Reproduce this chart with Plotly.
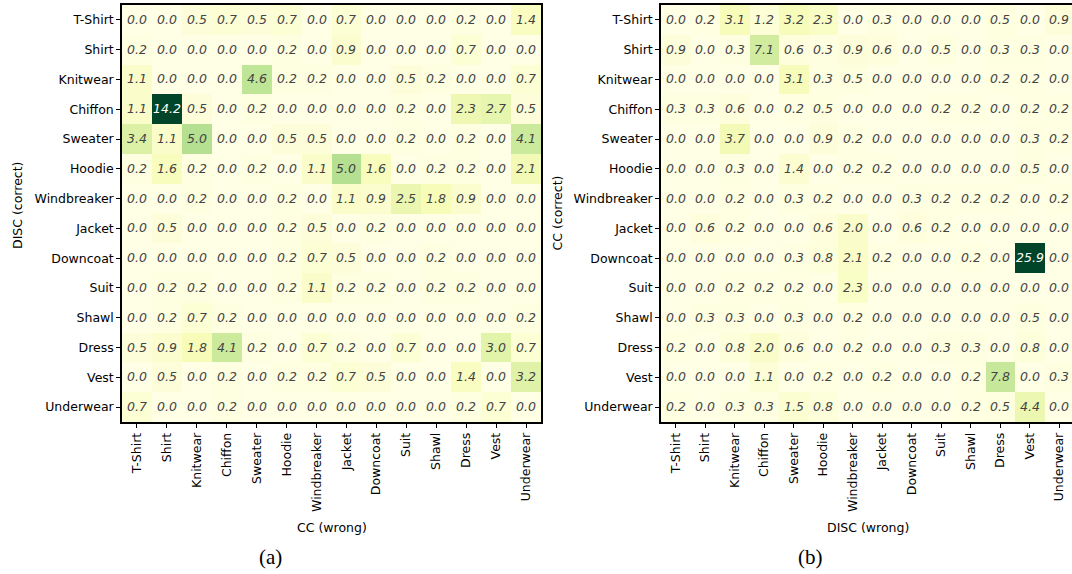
import plotly.graph_objects as go

categories = ["T-Shirt", "Shirt", "Knitwear", "Chiffon", "Sweater", "Hoodie", "Windbreaker",
              "Jacket", "Downcoat", "Suit", "Shawl", "Dress", "Vest", "Underwear"]

# (a) rows: DISC (correct), columns: CC (wrong)
values_a = [
    [0.0, 0.0, 0.5, 0.7, 0.5, 0.7, 0.0, 0.7, 0.0, 0.0, 0.0, 0.2, 0.0, 1.4],
    [0.2, 0.0, 0.0, 0.0, 0.0, 0.2, 0.0, 0.9, 0.0, 0.0, 0.0, 0.7, 0.0, 0.0],
    [1.1, 0.0, 0.0, 0.0, 4.6, 0.2, 0.2, 0.0, 0.0, 0.5, 0.2, 0.0, 0.0, 0.7],
    [1.1, 14.2, 0.5, 0.0, 0.2, 0.0, 0.0, 0.0, 0.0, 0.2, 0.0, 2.3, 2.7, 0.5],
    [3.4, 1.1, 5.0, 0.0, 0.0, 0.5, 0.5, 0.0, 0.0, 0.2, 0.0, 0.2, 0.0, 4.1],
    [0.2, 1.6, 0.2, 0.0, 0.2, 0.0, 1.1, 5.0, 1.6, 0.0, 0.2, 0.2, 0.0, 2.1],
    [0.0, 0.0, 0.2, 0.0, 0.0, 0.2, 0.0, 1.1, 0.9, 2.5, 1.8, 0.9, 0.0, 0.0],
    [0.0, 0.5, 0.0, 0.0, 0.0, 0.2, 0.5, 0.0, 0.2, 0.0, 0.0, 0.0, 0.0, 0.0],
    [0.0, 0.0, 0.0, 0.0, 0.0, 0.2, 0.7, 0.5, 0.0, 0.0, 0.2, 0.0, 0.0, 0.0],
    [0.0, 0.2, 0.2, 0.0, 0.0, 0.2, 1.1, 0.2, 0.2, 0.0, 0.2, 0.2, 0.0, 0.0],
    [0.0, 0.2, 0.7, 0.2, 0.0, 0.0, 0.0, 0.0, 0.0, 0.0, 0.0, 0.0, 0.0, 0.2],
    [0.5, 0.9, 1.8, 4.1, 0.2, 0.0, 0.7, 0.2, 0.0, 0.7, 0.0, 0.0, 3.0, 0.7],
    [0.0, 0.5, 0.0, 0.2, 0.0, 0.2, 0.2, 0.7, 0.5, 0.0, 0.0, 1.4, 0.0, 3.2],
    [0.7, 0.0, 0.0, 0.2, 0.0, 0.0, 0.0, 0.0, 0.0, 0.0, 0.0, 0.2, 0.7, 0.0],
]

# (b) rows: CC (correct), columns: DISC (wrong)
values_b = [
    [0.0, 0.2, 3.1, 1.2, 3.2, 2.3, 0.0, 0.3, 0.0, 0.0, 0.0, 0.5, 0.0, 0.9],
    [0.9, 0.0, 0.3, 7.1, 0.6, 0.3, 0.9, 0.6, 0.0, 0.5, 0.0, 0.3, 0.3, 0.0],
    [0.0, 0.0, 0.0, 0.0, 3.1, 0.3, 0.5, 0.0, 0.0, 0.0, 0.0, 0.2, 0.2, 0.0],
    [0.3, 0.3, 0.6, 0.0, 0.2, 0.5, 0.0, 0.0, 0.0, 0.2, 0.2, 0.0, 0.2, 0.2],
    [0.0, 0.0, 3.7, 0.0, 0.0, 0.9, 0.2, 0.0, 0.0, 0.0, 0.0, 0.0, 0.3, 0.2],
    [0.0, 0.0, 0.3, 0.0, 1.4, 0.0, 0.2, 0.2, 0.0, 0.0, 0.0, 0.0, 0.5, 0.0],
    [0.0, 0.0, 0.2, 0.0, 0.3, 0.2, 0.0, 0.0, 0.3, 0.2, 0.2, 0.2, 0.0, 0.2],
    [0.0, 0.6, 0.2, 0.0, 0.0, 0.6, 2.0, 0.0, 0.6, 0.2, 0.0, 0.0, 0.0, 0.0],
    [0.0, 0.0, 0.0, 0.0, 0.3, 0.8, 2.1, 0.2, 0.0, 0.0, 0.2, 0.0, 25.9, 0.0],
    [0.0, 0.0, 0.2, 0.2, 0.2, 0.0, 2.3, 0.0, 0.0, 0.0, 0.0, 0.0, 0.0, 0.0],
    [0.0, 0.3, 0.3, 0.0, 0.3, 0.0, 0.2, 0.0, 0.0, 0.0, 0.0, 0.0, 0.5, 0.0],
    [0.2, 0.0, 0.8, 2.0, 0.6, 0.0, 0.2, 0.0, 0.0, 0.3, 0.3, 0.0, 0.8, 0.0],
    [0.0, 0.0, 0.0, 1.1, 0.0, 0.2, 0.0, 0.2, 0.0, 0.0, 0.2, 7.8, 0.0, 0.3],
    [0.2, 0.0, 0.3, 0.3, 1.5, 0.8, 0.0, 0.0, 0.0, 0.0, 0.2, 0.5, 4.4, 0.0],
]

ylgn = ["#ffffe5", "#f7fcb9", "#d9f0a3", "#addd8e", "#78c679",
        "#41ab5d", "#238443", "#006837", "#004529"]
colorscale = [[i / (len(ylgn) - 1), c] for i, c in enumerate(ylgn)]

W, H = 1072, 574
FONT = "DejaVu Sans"
FS = 12.5

fig = go.Figure()
for vals, xa, ya in [(values_a, "x", "y"), (values_b, "x2", "y2")]:
    zmax = max(max(r) for r in vals)
    fig.add_trace(go.Heatmap(
        z=vals, x=categories, y=categories, xaxis=xa, yaxis=ya,
        colorscale=colorscale, zmin=0, zmax=zmax, showscale=False,
        texttemplate="%{z:.1f}",
        textfont=dict(family=FONT, size=FS, style="italic"),
        hoverinfo="skip",
    ))

def px_x(p):
    return p / W

def px_y(p):
    return 1 - p / H

axis_common = dict(
    showgrid=False, zeroline=False, ticks="outside", ticklen=4, tickwidth=1,
    tickcolor="black", linecolor="black", linewidth=1.5, showline=True,
    tickfont=dict(family=FONT, size=FS, color="black"),
)

title_font = dict(family=FONT, size=FS, color="black")
cap_font = dict(family="Liberation Serif", size=21, color="black")

def label(text, x, y, font, angle=0):
    return dict(text=text, x=px_x(x), y=px_y(y), xref="paper", yref="paper",
                xanchor="center", yanchor="middle", textangle=angle,
                showarrow=False, font=font)

fig.update_layout(
    width=W, height=H,
    margin=dict(l=0, r=0, t=0, b=0),
    paper_bgcolor="white", plot_bgcolor="white",
    xaxis=dict(domain=[px_x(122), px_x(541)], anchor="y", tickangle=-90,
               range=[-0.5, 13.5], mirror=True, **axis_common),
    yaxis=dict(domain=[px_y(422), px_y(5)], anchor="x",
               range=[13.5, -0.5], mirror=True, **axis_common),
    xaxis2=dict(domain=[px_x(661), 1.0], anchor="y2", tickangle=-90,
                range=[-0.5, 13.43], mirror=True, **axis_common),
    yaxis2=dict(domain=[px_y(422), px_y(5)], anchor="x2",
                range=[13.5, -0.5], mirror=False, **axis_common),
    annotations=[
        label("DISC (correct)", 18, 206, title_font, -90),
        label("CC (correct)", 557, 213.5, title_font, -90),
        label("CC (wrong)", 331.5, 527, title_font),
        label("DISC (wrong)", 868, 527, title_font),
        label("(a)", 270, 557, cap_font),
        label("(b)", 810, 557, cap_font),
    ],
)

fig.write_html("out.html",
               config={"displayModeBar": False},
               post_script="document.body.style.margin='0';document.body.style.overflow='hidden';")
